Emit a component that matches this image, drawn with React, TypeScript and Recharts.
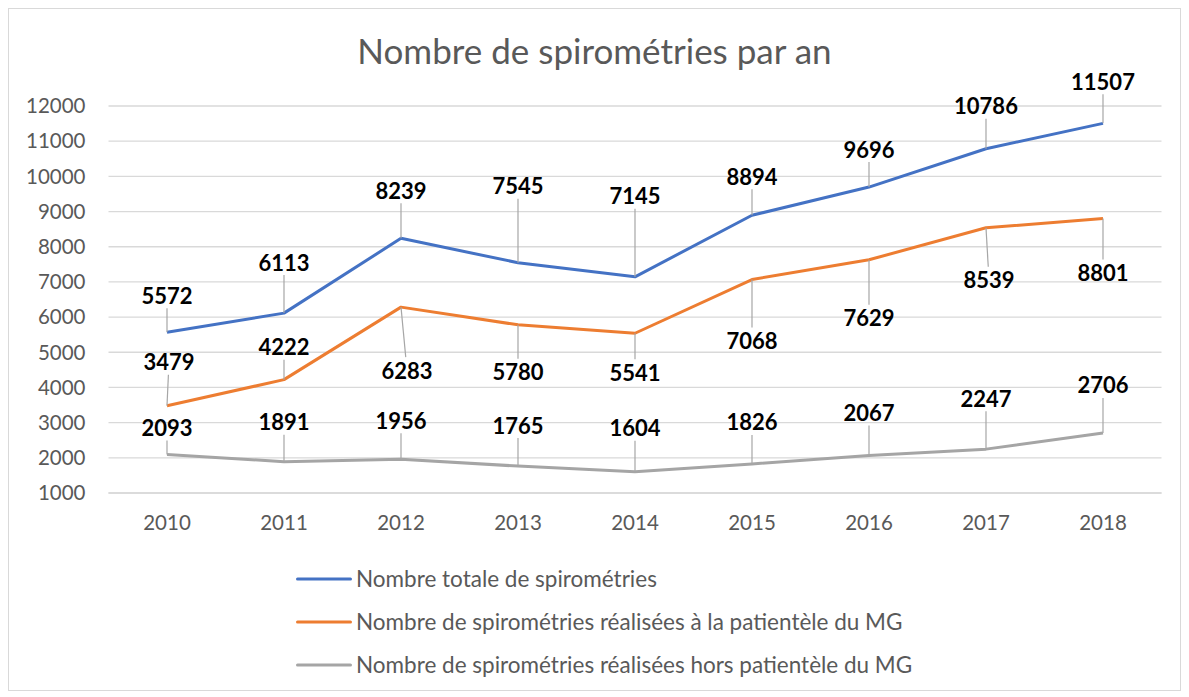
import { LineChart, Line, XAxis, YAxis, CartesianGrid, LabelList } from 'recharts'

const years = ['2010', '2011', '2012', '2013', '2014', '2015', '2016', '2017', '2018']
const totalSpiro = [5572, 6113, 8239, 7545, 7145, 8894, 9696, 10786, 11507]
const patienteleMG = [3479, 4222, 6283, 5780, 5541, 7068, 7629, 8539, 8801]
const horsPatientele = [2093, 1891, 1956, 1765, 1604, 1826, 2067, 2247, 2706]
const yTicks = [1000, 2000, 3000, 4000, 5000, 6000, 7000, 8000, 9000, 10000, 11000, 12000]

// where each data label sits relative to its point (manually placed in the original)
const totalLabelDy = [-37, -51, -48, -77, -81, -39, -38, -43, -42]
const mgLabelDy = [-44, -33, 63, 47, 39, 61, 58, 52, 54]
const mgLabelDx = [2, 0, 6, 0, 0, 0, 0, 3, 0]
const horsLabelDy = [-27, -40, -39, -41, -44, -42, -43, -51, -48]

const data = years.map((year, i) => ({
  year,
  total: totalSpiro[i],
  mg: patienteleMG[i],
  hors: horsPatientele[i],
}))

const series = [
  { key: 'total', name: 'Nombre totale de spirométries', color: '#4472C4' },
  { key: 'mg', name: 'Nombre de spirométries réalisées à la patientèle du MG', color: '#ED7D31' },
  { key: 'hors', name: 'Nombre de spirométries réalisées hors patientèle du MG', color: '#A5A5A5' },
]

const TEXT = '#595959'
const FONT = 'Lato, "Open Sans", sans-serif'

const makeLabel = (dys: number[], dxs?: number[]) => (props: any) => {
  const { x, y, value, index } = props
  const dy = dys[index] ?? -40
  const dx = dxs ? dxs[index] ?? 0 : 0
  const lx = x + dx
  const ly = y + dy
  const half = 13
  const gap = Math.abs(dy) - half
  const endY = dy < 0 ? ly + half : ly - half
  const endX = x + dx * ((Math.abs(dy) - half) / Math.abs(dy))
  return (
    <g>
      {gap > 5 && (
        <line x1={x} y1={y} x2={endX} y2={endY} stroke="#a6a6a6" strokeWidth={1.2} />
      )}
      <text
        x={lx}
        y={ly}
        textAnchor="middle"
        dominantBaseline="central"
        fontFamily={FONT}
        fontWeight={700}
        fontSize={22}
        fill="#000"
      >
        {value}
      </text>
    </g>
  )
}

const labelers: Record<string, any> = {
  total: makeLabel(totalLabelDy),
  mg: makeLabel(mgLabelDy, mgLabelDx),
  hors: makeLabel(horsLabelDy),
}

export default function App() {
  return (
    <div style={{ position: 'relative', width: 1173, height: 683, border: '1px solid #d9d9d9', boxSizing: 'border-box', background: '#fff' }}>
      <div
        style={{
          position: 'absolute',
          top: 20,
          left: 0,
          width: '100%',
          textAlign: 'center',
          fontFamily: FONT,
          fontSize: 35,
          color: TEXT,
        }}
      >
        Nombre de spirométries par an
      </div>
      <LineChart
        width={1171}
        height={681}
        data={data}
        margin={{ top: 97, right: 18.5, bottom: 167, left: 0 }}
      >
        <CartesianGrid vertical={false} stroke="#d9d9d9" strokeWidth={1.3} />
        <XAxis
          dataKey="year"
          height={30}
          padding={{ left: 58.5, right: 58.5 }}
          axisLine={{ stroke: '#d9d9d9', strokeWidth: 1.3 }}
          tickLine={false}
          tickSize={0}
          tickMargin={22}
          tick={{ fontFamily: FONT, fontSize: 20.5, fill: TEXT }}
        />
        <YAxis
          width={99.5}
          domain={[1000, 12000]}
          ticks={yTicks}
          interval={0}
          axisLine={false}
          tickLine={false}
          tickSize={0}
          tickMargin={23}
          tick={{ fontFamily: FONT, fontSize: 20.5, fill: TEXT }}
        />
        {series.map((s) => (
          <Line
            key={s.key}
            dataKey={s.key}
            name={s.name}
            stroke={s.color}
            strokeWidth={3}
            dot={false}
            strokeLinejoin="round"
            isAnimationActive={false}
          >
            <LabelList dataKey={s.key} content={labelers[s.key]} />
          </Line>
        ))}
      </LineChart>
      <div style={{ position: 'absolute', top: 548, left: 287 }}>
        {series.map((s) => (
          <div key={s.key} style={{ display: 'flex', alignItems: 'center', height: 43 }}>
            <svg width={56} height={6} style={{ marginRight: 4 }}>
              <line x1={1.5} y1={3} x2={54.5} y2={3} stroke={s.color} strokeWidth={3} strokeLinecap="round" />
            </svg>
            <span style={{ fontFamily: FONT, fontSize: 22.5, color: TEXT }}>{s.name}</span>
          </div>
        ))}
      </div>
    </div>
  )
}
